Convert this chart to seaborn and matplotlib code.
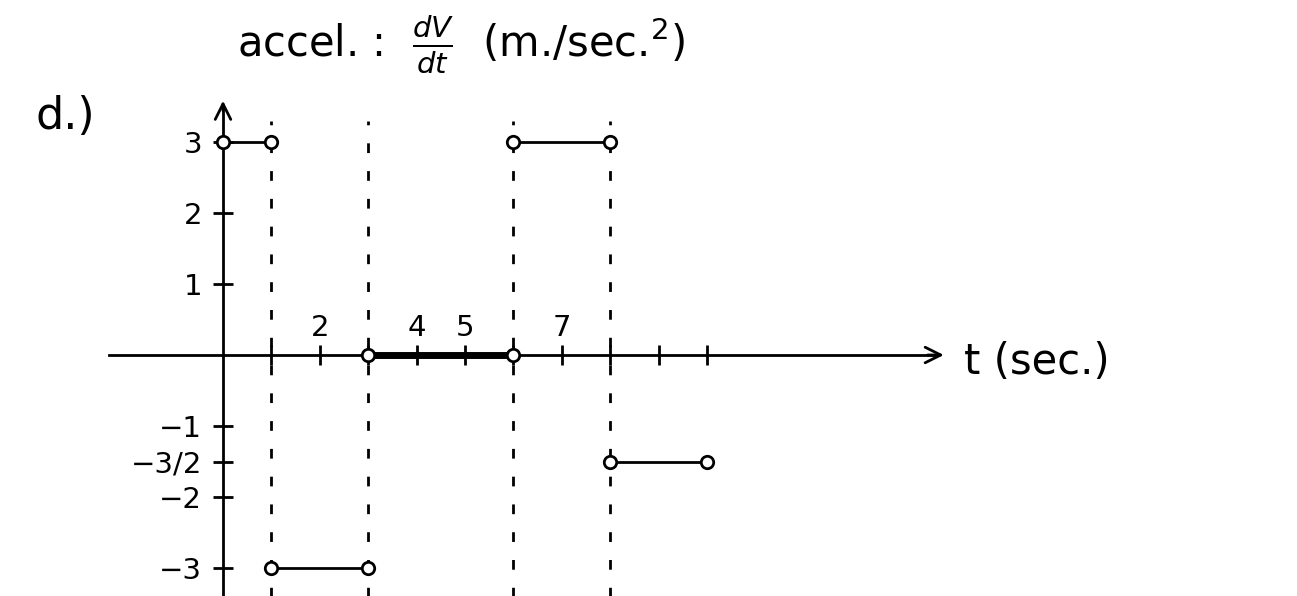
import pandas as pd
import numpy as np
import matplotlib.pyplot as plt
import seaborn as sns

# === data: piecewise acceleration dv/dt (m/sec^2) ===
seg_start = [0, 1, 3, 6, 8]
seg_end = [1, 3, 6, 8, 10]
seg_accel = [3, -3, 0, 3, -1.5]
jump_times = [1, 3, 6, 8]

y_ticks = [3, 2, 1, -1, -1.5, -2, -3]
y_tick_labels = ["3", "2", "1", "\u22121", "\u22123/2", "\u22122", "\u22123"]
x_ticks = [1, 2, 3, 4, 5, 6, 7, 8, 9, 10]
x_label_vals = [2, 4, 5, 7]

rows = []
for i, (a, b, v) in enumerate(zip(seg_start, seg_end, seg_accel)):
    rows.append({"seg": i, "t": a, "accel": v})
    rows.append({"seg": i, "t": b, "accel": v})
df = pd.DataFrame(rows)

sns.set_style("white")
plt.rcParams["font.family"] = ["DejaVu Sans"]
plt.rcParams["text.color"] = "black"
plt.rcParams["ytick.color"] = "black"
plt.rcParams["xtick.color"] = "black"

fig = plt.figure(figsize=(12.97, 5.96), dpi=100)
ax = fig.add_axes([0, 0, 1, 1])

# pixel -> data mapping: origin at (223, 355), 48.4 px per sec, 71 px per unit
ax.set_xlim(-223 / 48.4, (1297 - 223) / 48.4)
ax.set_ylim(-(596 - 355) / 71, 355 / 71)

# dashed verticals at the jumps
ax.vlines(jump_times, -3.5, 3.3, colors="k", lw=2, linestyles=(0, (3.5, 6.5)), zorder=1)

# segments
sns.lineplot(data=df, x="t", y="accel", units="seg", estimator=None,
             color="k", lw=2, ax=ax, zorder=3)
sns.lineplot(data=df[df["accel"] == 0], x="t", y="accel", units="seg",
             estimator=None, color="k", lw=5, ax=ax, zorder=3)
sns.scatterplot(data=df, x="t", y="accel", s=80, facecolor="white",
                edgecolor="k", linewidth=2, ax=ax, zorder=4)

# axes through origin
for s in ["top", "right"]:
    ax.spines[s].set_visible(False)
ax.spines["left"].set_position(("data", 0))
ax.spines["bottom"].set_position(("data", 0))
ax.spines["left"].set_bounds(-3.4, 3.5)
ax.spines["bottom"].set_bounds(-2.35, 14.7)
for s in ["left", "bottom"]:
    ax.spines[s].set_linewidth(2)
    ax.spines[s].set_color("k")
ax.annotate("", xy=(14.95, 0), xytext=(14.5, 0),
            arrowprops=dict(arrowstyle="->", lw=2, mutation_scale=28, color="k"))
ax.annotate("", xy=(0, 3.62), xytext=(0, 3.4),
            arrowprops=dict(arrowstyle="->", lw=2, mutation_scale=28, color="k"))

ax.set_yticks(y_ticks)
ax.set_yticklabels(y_tick_labels, fontsize=21)
ax.set_xticks(x_ticks)
ax.set_xticklabels([])
ax.tick_params(axis="both", direction="inout", length=14, width=2, color="k",
               pad=8, bottom=True, left=True)
ax.set_xlabel("")
ax.set_ylabel("")

for v in x_label_vals:
    ax.text(v, 0.18, str(v), fontsize=21, ha="center", va="bottom")

ax.text(15.3, -0.1, "t (sec.)", fontsize=30, ha="left", va="center")

fig.text(0.355, 0.925, r"accel. :  $\frac{dV}{dt}$  (m./sec.$^2$)",
         fontsize=30, ha="center", va="center")
fig.text(0.05, 0.805, "d.)", fontsize=32, ha="center", va="center")

fig.savefig("out.png", dpi=100)
